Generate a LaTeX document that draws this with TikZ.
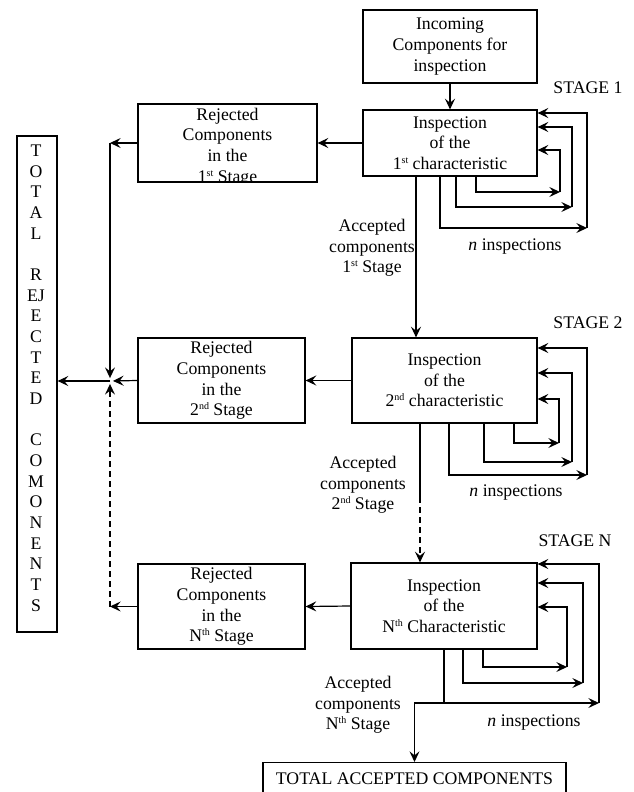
\documentclass[tikz,border=0pt]{standalone}
\usepackage{fontspec}
\setmainfont{Liberation Serif}
\usetikzlibrary{arrows.meta}
\newcommand\mysups[1]{\raisebox{0.75ex}{\fontsize{7.5}{7.5}\selectfont #1}}
\begin{document}
\begin{tikzpicture}[x=0.75pt,y=-0.75pt,
  every node/.style={font=\fontsize{13.3}{15.5}\selectfont},
  box/.style={draw, line width=0.9pt, align=center, inner sep=0pt},
  arr/.style={line width=0.9pt, -{Stealth[length=8pt,width=7.5pt,inset=3pt]}},
  ln/.style={line width=0.9pt},
  dsh/.style={dash pattern=on 4.5pt off 3pt},
  lbl/.style={align=center, inner sep=0pt}]
\useasboundingbox (0,0) rectangle (633,792);
\clip (0,0) rectangle (633,792);

% boxes
\node[box, minimum width=130.5pt, minimum height=54.75pt] (incoming) at (450,46.5) {Incoming\\Components for\\inspection};
\node[box, minimum width=130.5pt, minimum height=49.5pt] (insp1) at (450,143) {Inspection\\of the\\1\mysups{st} characteristic};
\node[box, minimum width=134.25pt, minimum height=58.5pt] (rej1) at (227.5,143) {};
\begin{scope}
  \clip (rej1.south west) rectangle (rej1.north east);
  \node[lbl] (rej1text) at (227.5,147) {Rejected\\Components\\in the\\1\mysups{st} Stage};
\end{scope}
\node[box, minimum width=138.75pt, minimum height=63.75pt] (insp2) at (444.5,380.5) {Inspection\\of the\\2\mysups{nd} characteristic};
\node[box, minimum width=125.25pt, minimum height=63.75pt] (rej2) at (221.5,380.5) {Rejected\\Components\\in the\\2\mysups{nd} Stage};
\node[box, minimum width=139.5pt, minimum height=64.5pt] (inspN) at (444,606) {Inspection\\of the\\N\mysups{th} Characteristic};
\node[box, minimum width=125.25pt, minimum height=63.75pt] (rejN) at (221.5,606.5) {Rejected\\Components\\in the\\N\mysups{th} Stage};
\node[box, minimum width=30pt, minimum height=372pt] (totrej) at (37,384) {};
\node[lbl] (totrejtext) at (36,378) {T\\O\\T\\A\\L\\[15.5pt]R\\EJ\\E\\C\\T\\E\\D\\[15.5pt]C\\O\\M\\O\\N\\E\\N\\T\\S};
\node[box, minimum width=227.25pt, minimum height=42pt, anchor=north] (totacc) at (414.5,762) {};
\node[lbl] (totacctext) at (414.5,779) {TOTAL ACCEPTED COMPONENTS};

% labels
\node[lbl] (st1) at (588,88) {STAGE 1};
\node[lbl] (st2) at (588,323) {STAGE 2};
\node[lbl] (stN) at (575,541) {STAGE N};
\node[lbl] (n1) at (515,247) {\textit{n} inspections};
\node[lbl] (n2) at (516,493) {\textit{n} inspections};
\node[lbl] (nN) at (534,723) {\textit{n} inspections};
\node[lbl] (acc1) at (372,248) {Accepted\\components\\1\mysups{st} Stage};
\node[lbl] (acc2) at (363,485) {Accepted\\components\\2\mysups{nd} Stage};
\node[lbl] (accN) at (358,705) {Accepted\\components\\N\mysups{th} Stage};

% main flow
\draw[arr] (incoming.south) -- (insp1.north);
\draw[arr] (insp1.west) -- (rej1.east);
\draw[arr] (insp2.west) -- (rej2.east);
\draw[arr] (inspN.west) -- (rejN.east);

\coordinate (jr1) at (110,143);
\coordinate (jr2) at (110,381);
\coordinate (jrn) at (110,606.5);
\draw[arr] (rej1.west) -- (jr1);
\draw[arr, shorten >=2.2pt] (jr1) -- (jr2);
\draw[arr, shorten >=2.2pt] (rej2.west) -- (jr2);
\draw[arr] (rejN.west) -- (jrn);
\draw[arr, dsh, shorten >=2.2pt] (jrn) -- (jr2);
\draw[arr] (jr2) -- (jr2 -| totrej.east);

% accepted
\draw[arr] (insp1.south -| 416,0) -- (insp2.north -| 416,0);
\coordinate (a2) at (420,497);
\draw[ln] (insp2.south -| a2) -- (a2);
\draw[arr, dsh] (a2) -- (inspN.north -| a2);
\coordinate (aN) at (444,703);
\coordinate (aNl) at (414.5,703);
\draw[ln] (inspN.south -| aN) -- (aN);
\draw[arr] (aN) -- (aNl) -- (totacc.north);

% loops stage 1
\draw[arr] (insp1.south -| 440,0) |- (587,228) coordinate (l1a);
\draw[arr] (l1a) |- (insp1.east |- 0,113);
\draw[arr] (insp1.south -| 456,0) |- (572,207) coordinate (l1b);
\draw[arr] (l1b) |- (insp1.east |- 0,127);
\draw[arr] (insp1.south -| 476,0) |- (560,192) coordinate (l1c);
\draw[arr] (l1c) |- (insp1.east |- 0,150);

% loops stage 2
\draw[arr] (insp2.south -| 449,0) |- (587,475) coordinate (l2a);
\draw[arr] (l2a) |- (insp2.east |- 0,348);
\draw[arr] (insp2.south -| 484,0) |- (572,462) coordinate (l2b);
\draw[arr] (l2b) |- (insp2.east |- 0,373);
\draw[arr] (insp2.south -| 514,0) |- (559,443) coordinate (l2c);
\draw[arr] (l2c) |- (insp2.east |- 0,399);

% loops stage N
\draw[arr] (aN) -- (599,703) coordinate (lNa);
\draw[arr] (lNa) |- (inspN.east |- 0,564);
\draw[arr] (inspN.south -| 463,0) |- (583,683) coordinate (lNb);
\draw[arr] (lNb) |- (inspN.east |- 0,583);
\draw[arr] (inspN.south -| 483,0) |- (567,667) coordinate (lNc);
\draw[arr] (lNc) |- (inspN.east |- 0,607);
\end{tikzpicture}
\end{document}
